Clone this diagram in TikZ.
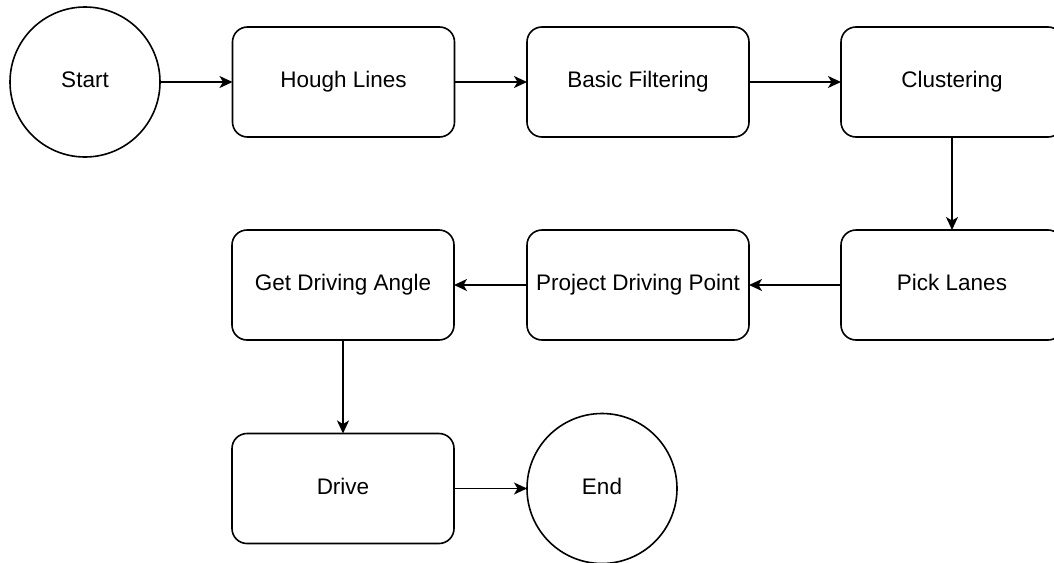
\documentclass[tikz,border=0pt]{standalone}
\usepackage{fontspec}
\setmainfont{Liberation Sans}
\usetikzlibrary{arrows.meta}
\begin{document}
\begin{tikzpicture}[x=1pt,y=-1pt,
  every node/.style={font=\fontsize{22.5}{27}\selectfont, text=black,
    text height=17pt, text depth=6pt},
  stepbox/.style={draw=black, line width=1.6pt, rounded corners=15pt,
    minimum width=222pt, minimum height=110pt, inner sep=0pt, outer sep=0pt, fill=white},
  termnode/.style={draw=black, line width=1.6pt, circle, minimum size=150pt,
    inner sep=0pt, outer sep=0pt, fill=white},
  flow/.style={draw=black, line width=1.6pt,
    -{Stealth[length=13pt, width=12pt, inset=3.5pt]}}]
  \useasboundingbox (0,0) rectangle (1054,562);

  % first row
  \node[termnode] (start) at (85,82) {Start};
  \node[stepbox] (hough) at (343.5,82) {Hough Lines};
  \node[stepbox] (filter) at (638,82) {Basic Filtering};
  \node[stepbox] (cluster) at (952,82) {Clustering};

  % second row
  \node[stepbox] (angle) at (343,285) {Get Driving Angle};
  \node[stepbox] (project) at (638,285) {Project Driving Point};
  \node[stepbox] (lanes) at (952,285) {Pick Lanes};

  % third row
  \node[stepbox] (drive) at (343,488.5) {Drive};
  \node[termnode] (end) at (602,488.5) {End};

  % connectors
  \draw[flow] (start) -- (hough);
  \draw[flow] (hough) -- (filter);
  \draw[flow] (filter) -- (cluster);
  \draw[flow] (cluster) -- (lanes);
  \draw[flow] (lanes) -- (project);
  \draw[flow] (project) -- (angle);
  \draw[flow] (angle) -- (drive);
  \draw[flow] (drive) -- (end);
\end{tikzpicture}
\end{document}
